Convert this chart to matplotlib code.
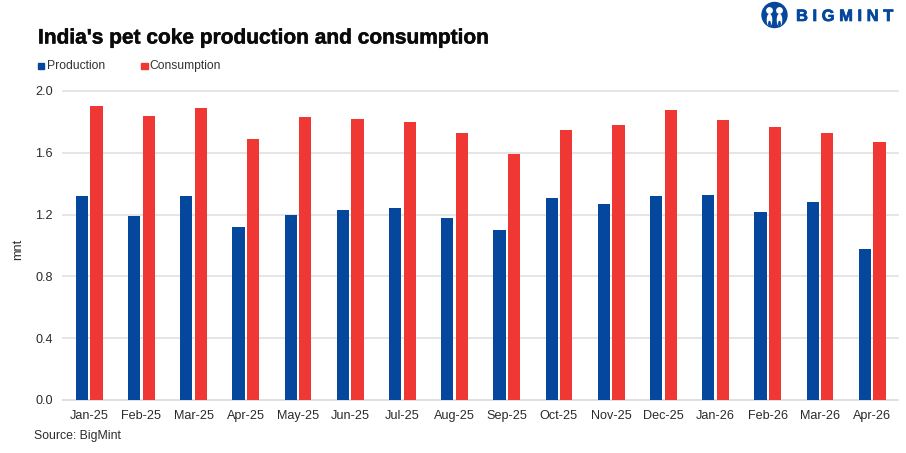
import matplotlib
matplotlib.use("Agg")
import matplotlib.pyplot as plt
import matplotlib.patheffects as pe
from matplotlib.patches import Circle, Ellipse, Rectangle
import numpy as np

months = ["Jan-25", "Feb-25", "Mar-25", "Apr-25", "May-25", "Jun-25", "Jul-25", "Aug-25",
          "Sep-25", "Oct-25", "Nov-25", "Dec-25", "Jan-26", "Feb-26", "Mar-26", "Apr-26"]
production = [1.32, 1.19, 1.32, 1.12, 1.20, 1.23, 1.24, 1.18, 1.10, 1.31, 1.27, 1.32, 1.33, 1.22, 1.28, 0.98]
consumption = [1.90, 1.84, 1.89, 1.69, 1.83, 1.82, 1.80, 1.73, 1.59, 1.75, 1.78, 1.88, 1.81, 1.77, 1.73, 1.67]
y_ticks = [0.0, 0.4, 0.8, 1.2, 1.6, 2.0]

BLUE = "#04479C"
RED = "#EF3833"
W, H = 906, 453
plt.rcParams["font.family"] = ["Liberation Sans", "DejaVu Sans"]

fig = plt.figure(figsize=(W / 100, H / 100), dpi=100, facecolor="white")
ax = fig.add_axes([62.5 / W, 1 - 400 / H, (897.5 - 62.5) / W, 309 / H])

x = np.arange(len(months))
unit = 52.2
bar_w = 12.2 / unit
offset = 7.3 / unit
ax.bar(x - offset, production, bar_w, color=BLUE, zorder=3)
ax.bar(x + offset, consumption, bar_w, color=RED, zorder=3)

ax.set_xlim(-0.51, -0.51 + (897.5 - 62.5) / unit)
ax.set_ylim(0, 2.0)
ax.set_yticks(y_ticks, [f"{t:.1f}" for t in y_ticks])
ax.set_xticks(x, months)
ax.tick_params(length=0, labelsize=9.1, labelcolor="#2B2B2B")
ax.tick_params(axis="x", pad=7)
ax.tick_params(axis="y", pad=7)
ax.grid(axis="y", color="#E0E0E0", linewidth=1.2, zorder=0)
for s in ["top", "right", "left"]:
    ax.spines[s].set_visible(False)
ax.spines["bottom"].set_color("#E0E0E0")
ax.spines["bottom"].set_linewidth(1.2)
for tick in ax.yaxis.get_major_ticks():
    tick.gridline.set_clip_on(False)
ax.set_ylabel("mnt", fontsize=9.1, color="#2B2B2B")
ax.yaxis.set_label_coords((24 - 62.5) / (897.5 - 62.5), 0.487)

def px_text(px, py, s, **kw):
    fig.text(px / W, 1 - py / H, s, va="center", **kw)

px_text(38, 38, "India's pet coke production and consumption", fontsize=15.05, fontweight="bold", color="#0A0A0A",
        path_effects=[pe.withStroke(linewidth=0.35, foreground="#0A0A0A")])
px_text(46.5, 66, "Production", fontsize=8.75, color="#333333")
px_text(149, 66, "Consumption", fontsize=8.75, color="#333333")
px_text(34, 435.5, "Source: BigMint", fontsize=8.8, color="#2B2B2B")

# legend swatches
fig.add_artist(Rectangle((38 / W, 1 - 68.5 / H), 6 / W, 6 / H, color=BLUE, transform=fig.transFigure))
fig.add_artist(Rectangle((141 / W, 1 - 68.5 / H), 6.5 / W, 6 / H, color=RED, transform=fig.transFigure))

# logo: round emblem with two figures, then the wordmark
logo = fig.add_axes([0, 0, 1, 1], facecolor="none")
logo.set_xlim(0, W)
logo.set_ylim(H, 0)
logo.axis("off")
logo.add_patch(Circle((774.5, 15), 12.5, color=BLUE))
for cx in (769.5, 779.5):
    logo.add_patch(Circle((cx, 10.5), 2.7, color="white"))
    logo.add_patch(Ellipse((cx, 20), 4.2, 11, color="white"))
    logo.add_patch(Ellipse((cx, 24), 1.4, 5, color=BLUE))
logo.text(796, 16.5, "B I G M I N T", fontsize=11.9, fontweight="bold", color=BLUE, va="center", ha="left",
          path_effects=[pe.withStroke(linewidth=0.5, foreground=BLUE)])

fig.savefig("out.png", dpi=100, facecolor="white")
